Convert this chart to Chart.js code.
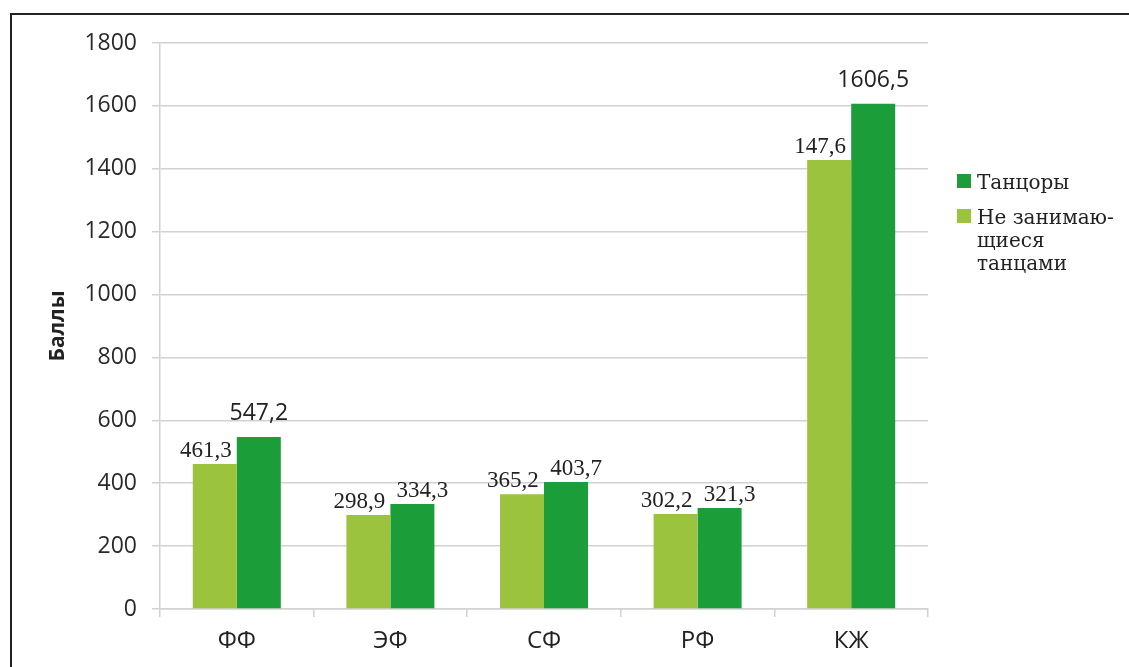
<!DOCTYPE html>
<html>
<head>
<meta charset="utf-8">
<script src="https://cdn.jsdelivr.net/npm/chart.js@4/dist/chart.umd.min.js"></script>
<style>
  html, body { margin: 0; padding: 0; background: #fff; overflow: hidden; }
  #wrap { position: relative; width: 1129px; height: 667px; }
  #frame { position: absolute; left: 10px; top: 13px; width: 1200px; height: 700px;
           border-left: 2px solid #222; border-top: 2px solid #222; }
  canvas { position: absolute; left: 0; top: 0; }
</style>
</head>
<body>
<div id="wrap">
  <div id="frame"></div>
  <canvas id="chart" width="1129" height="667"></canvas>
</div>
<script>
// categories and values
const groups = ['ФФ', 'ЭФ', 'СФ', 'РФ', 'КЖ'];
const dancers = [547.2, 334.3, 403.7, 321.3, 1606.5];
const nonDancers = [461.3, 298.9, 365.2, 302.2, 1427.6];
// value labels as printed on the chart (the КЖ one is printed as "147,6")
const dancersText = ['547,2', '334,3', '403,7', '321,3', '1606,5'];
const nonDancersText = ['461,3', '298,9', '365,2', '302,2', '147,6'];
const yTicks = [0, 200, 400, 600, 800, 1000, 1200, 1400, 1600, 1800];

const lightGreen = '#9cc33d';
const darkGreen = '#1b9e3a';
const gridCol = '#d2d2d2';
const serif = '"Liberation Serif", "DejaVu Serif", serif';

// bar value labels
const valueLabels = {
  id: 'valueLabels',
  afterDatasetsDraw(chart) {
    const ctx = chart.ctx;
    ctx.save();
    ctx.fillStyle = '#222';
    ctx.textAlign = 'center';
    ctx.textBaseline = 'alphabetic';
    chart.data.datasets.forEach((ds, di) => {
      const meta = chart.getDatasetMeta(di);
      meta.data.forEach((bar, i) => {
        const txt = ds.valueText[i];
        const sans = di === 1 && (i === 0 || i === 4);
        if (sans) {
          ctx.font = '23px "Open Sans"';
          ctx.fillText(txt, bar.x, bar.y - 17);
        } else {
          ctx.font = '23px ' + serif;
          const dx = di === 0 ? -9 : 10;
          ctx.fillText(txt, bar.x + dx, bar.y - 7);
        }
      });
    });
    ctx.restore();
  }
};

// legend on the right, with a wrapped second entry
const sideLegend = {
  id: 'sideLegend',
  afterDraw(chart) {
    const ctx = chart.ctx;
    ctx.save();
    ctx.font = '20px "DejaVu Serif", serif';
    ctx.textAlign = 'left';
    ctx.textBaseline = 'alphabetic';
    ctx.fillStyle = darkGreen;
    ctx.fillRect(957, 174, 14, 14);
    ctx.fillStyle = lightGreen;
    ctx.fillRect(957, 209, 14, 14);
    ctx.fillStyle = '#222';
    ctx.fillText('Танцоры', 977, 189);
    ctx.fillText('Не занимаю-', 977, 224);
    ctx.fillText('щиеся', 977, 247);
    ctx.fillText('танцами', 977, 270);
    ctx.restore();
  }
};

new Chart(document.getElementById('chart'), {
  type: 'bar',
  data: {
    labels: groups,
    datasets: [
      { label: 'Не занимающиеся танцами', data: nonDancers, valueText: nonDancersText,
        backgroundColor: lightGreen, categoryPercentage: 0.573, barPercentage: 1.0 },
      { label: 'Танцоры', data: dancers, valueText: dancersText,
        backgroundColor: darkGreen, categoryPercentage: 0.573, barPercentage: 1.0 }
    ]
  },
  options: {
    responsive: false,
    animation: false,
    layout: { padding: { left: 0, top: 43, right: 201, bottom: 0 } },
    plugins: { legend: { display: false }, tooltip: { enabled: false } },
    scales: {
      x: {
        grid: { display: true, drawOnChartArea: false, offset: true, tickLength: 8, color: gridCol, lineWidth: 1.5 },
        border: { color: gridCol, width: 1.5 },
        ticks: { color: '#222', font: { family: 'Open Sans', size: 24 }, padding: 10 },
        afterFit(scale) { scale.height = 58; }
      },
      y: {
        min: 0,
        max: 1800,
        afterBuildTicks(scale) { scale.ticks = yTicks.map(v => ({ value: v })); },
        grid: { color: gridCol, lineWidth: 1.5, tickLength: 8 },
        border: { color: gridCol, width: 1.5 },
        ticks: { color: '#2a2a2a', font: { family: 'Open Sans', size: 23 }, padding: 15,
                 callback: v => String(v) },
        title: { display: true, text: 'Баллы', color: '#222',
                 font: { family: 'Open Sans', size: 21, weight: 'bold' }, padding: { top: 45, bottom: 0 } },
        afterFit(scale) { scale.width = 160; }
      }
    }
  },
  plugins: [valueLabels, sideLegend]
});
</script>
</body>
</html>
